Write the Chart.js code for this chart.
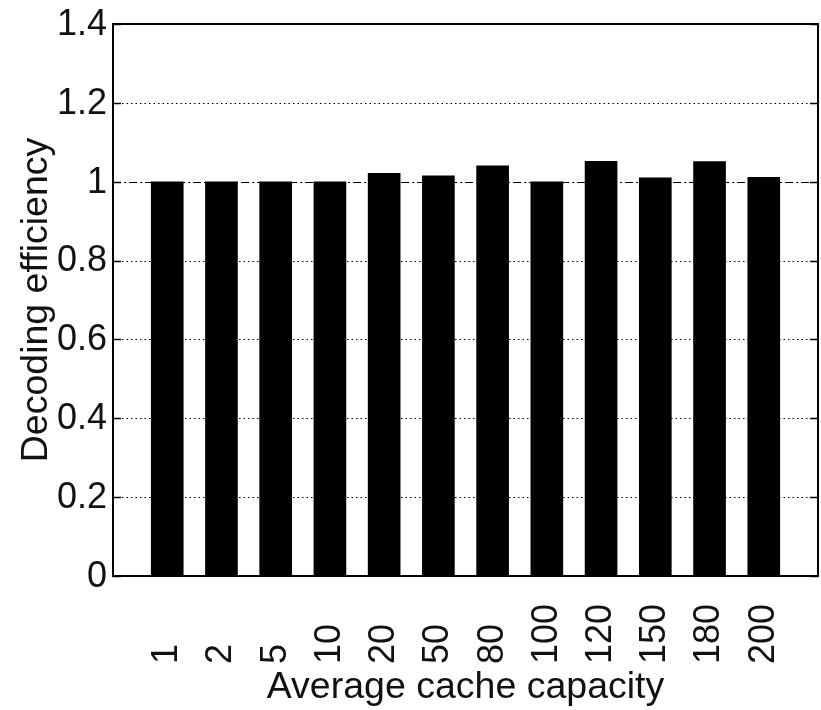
<!DOCTYPE html>
<html>
<head>
<meta charset="utf-8">
<script src="https://cdn.jsdelivr.net/npm/chart.js@4"></script>
<style>
  html, body { margin: 0; padding: 0; background: #fff; }
</style>
</head>
<body>
<canvas id="chart" width="821" height="710"></canvas>
<script>
// Data
const capacities = ['1', '2', '5', '10', '20', '50', '80', '100', '120', '150', '180', '200'];
const efficiency = [1.0, 1.0, 1.0, 1.0, 1.021, 1.015, 1.040, 1.0, 1.052, 1.010, 1.051, 1.011];
const yTicks = [0, 0.2, 0.4, 0.6, 0.8, 1, 1.2, 1.4];
const yTickLabels = ['0', '0.2', '0.4', '0.6', '0.8', '1', '1.2', '1.4'];
const refLine = 1;

const FONT = '"Liberation Sans", Arial, Helvetica, sans-serif';

// one empty slot on each side so the bars sit at 1..12 on a 0..13 axis
const labels = [''].concat(capacities, ['']);
const values = [null].concat(efficiency, [null]);

// MATLAB-ish axes: dotted grid, dash-dot line at 1, boxed frame, inward ticks,
// and x labels rotated and aligned at their start (Chart.js can't do that)
const matlabAxes = {
    id: 'matlabAxes',
    beforeDatasetsDraw(chart) {
        const { ctx, chartArea: a, scales: { y } } = chart;
        ctx.save();
        ctx.strokeStyle = '#000';
        ctx.lineWidth = 1;
        yTicks.forEach(v => {
            if (v <= y.min || v >= y.max) return;
            const py = Math.round(y.getPixelForValue(v)) + 0.5;
            ctx.setLineDash(v === refLine ? [8, 3, 2, 3] : [1.5, 3]);
            ctx.beginPath();
            ctx.moveTo(a.left, py);
            ctx.lineTo(a.right, py);
            ctx.stroke();
        });
        ctx.restore();
    },
    afterDraw(chart) {
        const { ctx, chartArea: a, scales: { x, y } } = chart;
        ctx.save();
        ctx.strokeStyle = '#000';
        ctx.setLineDash([]);

        // inward tick marks on left and right
        ctx.lineWidth = 1.5;
        yTicks.forEach(v => {
            const py = Math.round(y.getPixelForValue(v)) + 0.5;
            ctx.beginPath();
            ctx.moveTo(a.left, py); ctx.lineTo(a.left + 8, py);
            ctx.moveTo(a.right, py); ctx.lineTo(a.right - 8, py);
            ctx.stroke();
        });

        // box
        ctx.lineWidth = 2;
        ctx.strokeRect(a.left, a.top, a.right - a.left, a.bottom - a.top);

        // rotated category labels
        ctx.font = '36px ' + FONT;
        ctx.fillStyle = '#111';
        ctx.textAlign = 'left';
        ctx.textBaseline = 'middle';
        capacities.forEach((c, i) => {
            const px = x.getPixelForValue(i + 1);
            ctx.save();
            ctx.translate(px, a.bottom + 88);
            ctx.rotate(-Math.PI / 2);
            ctx.fillText(c, 0, 0);
            ctx.restore();
        });
        ctx.restore();
    }
};

const ctx = document.getElementById('chart').getContext('2d');
new Chart(ctx, {
    type: 'bar',
    data: {
        labels: labels,
        datasets: [{
            label: 'Decoding efficiency',
            data: values,
            backgroundColor: '#000',
            borderWidth: 0,
            barThickness: 32
        }]
    },
    options: {
        responsive: false,
        animation: false,
        devicePixelRatio: 1,
        layout: { padding: { top: 20, right: 3, left: 0, bottom: 0 } },
        plugins: {
            legend: { display: false },
            tooltip: { enabled: false }
        },
        scales: {
            x: {
                offset: false,
                grid: { display: false },
                border: { display: false },
                ticks: { display: false },
                title: {
                    display: true,
                    text: 'Average cache capacity',
                    color: '#111',
                    font: { family: FONT, size: 37.5 },
                    padding: { top: 0, bottom: 0 }
                },
                afterFit(scale) { scale.height = 134; }
            },
            y: {
                min: 0,
                max: 1.4,
                grid: { display: false, drawTicks: false },
                border: { display: false },
                afterBuildTicks(scale) {
                    scale.ticks = yTicks.map(v => ({ value: v }));
                },
                ticks: {
                    color: '#111',
                    padding: 6,
                    labelOffset: 1,
                    font: { family: FONT, size: 36, lineHeight: 1 },
                    callback: (v) => {
                        const i = yTicks.findIndex(t => Math.abs(t - v) < 1e-9);
                        return i >= 0 ? yTickLabels[i] : '';
                    }
                },
                title: {
                    display: true,
                    text: 'Decoding efficiency',
                    color: '#111',
                    font: { family: FONT, size: 37.5 },
                    padding: { top: 14, bottom: 0 }
                },
                afterFit(scale) { scale.width = 113; }
            }
        }
    },
    plugins: [matlabAxes]
});
</script>
</body>
</html>
